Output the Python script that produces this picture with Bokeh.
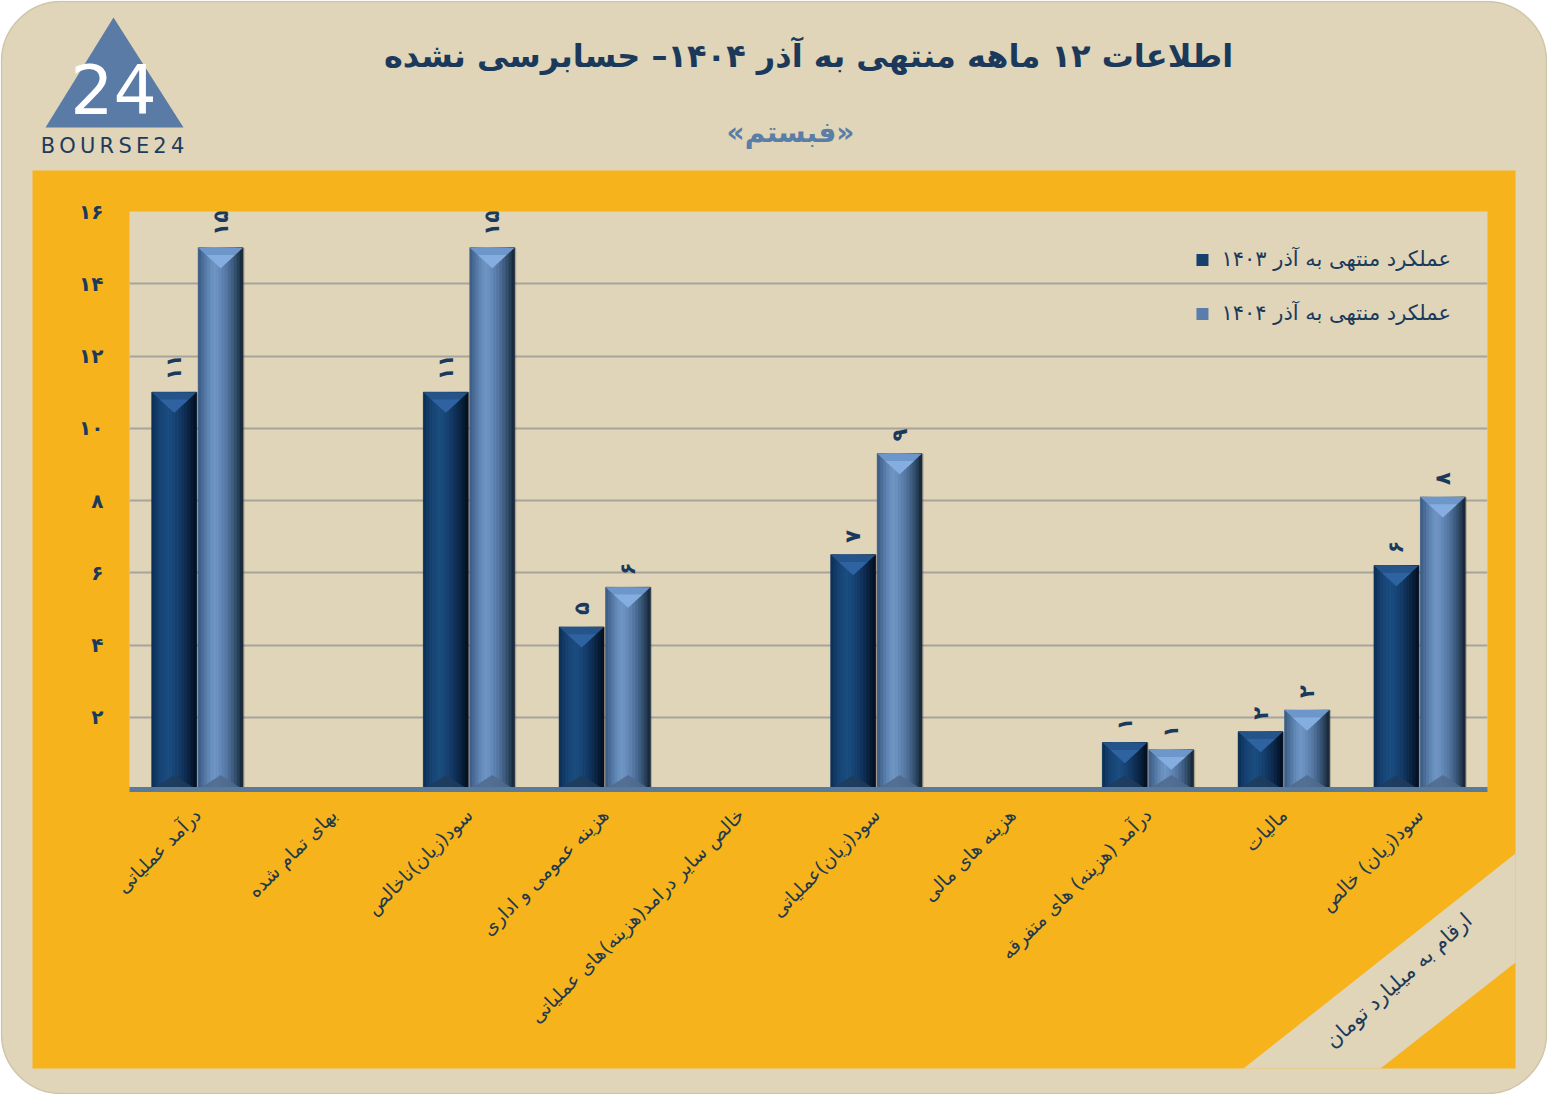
import math
from bokeh.plotting import figure
from bokeh.layouts import column
from bokeh.models import (BoxAnnotation, Label, Legend, LegendItem,
                          FixedTicker, ColumnDataSource, Range1d)
from bokeh.core.properties import value
from bokeh.embed import file_html
from bokeh.resources import INLINE

# ---------------- data ----------------
categories = ["درآمد عملیاتی", "بهای تمام شده", "سود(زیان)ناخالص", "هزینه عمومی و اداری",
              "خالص سایر درامد(هزینه)های عملیاتی", "سود(زیان)عملیاتی", "هزینه های مالی",
              "درآمد (هزینه) های متفرقه", "مالیات", "سود(زیان) خالص"]
values_1403 = [11.0, 0, 11.0, 4.5, 0, 6.5, 0, 1.3, 1.6, 6.2]
values_1404 = [15.0, 0, 15.0, 5.6, 0, 9.3, 0, 1.1, 2.2, 8.1]
labels_1403 = ["۱۱", "", "۱۱", "۵", "", "۷", "", "۱", "۲", "۶"]
labels_1404 = ["۱۵", "", "۱۵", "۶", "", "۹", "", "۱", "۲", "۸"]
series_names = ["عملکرد منتهی به آذر ۱۴۰۳", "عملکرد منتهی به آذر ۱۴۰۴"]
y_ticks = [0, 2, 4, 6, 8, 10, 12, 14, 16]
y_tick_labels = ["", "۲", "۴", "۶", "۸", "۱۰", "۱۲", "۱۴", "۱۶"]
title_text = "اطلاعات ۱۲ ماهه منتهی به آذر ۱۴۰۴– حسابرسی نشده"
subtitle_text = "«فبستم»"
unit_note = "ارقام به میلیارد تومان"

# ---------------- style ----------------
FONT = "DejaVu Sans"
BEIGE = "#e0d5b9"
ORANGE = "#f6b31b"
NAVY = "#1b3a5b"
W, H = 1547, 1094
FL, FR, FT, FB = 129, 1487, 211, 789

# ---------------- decoration layer (behind) ----------------
d = figure(width=W, height=H, x_range=Range1d(0, W), y_range=Range1d(H, 0),
           x_axis_location=None, y_axis_location=None, min_border=0,
           output_backend="svg", toolbar_location=None, outline_line_color=None,
           background_fill_color="white", border_fill_color="white", frame_align=False)
d.grid.visible = False
d.add_layout(BoxAnnotation(left=1, right=W - 1, top=1, bottom=H - 1, fill_color=BEIGE, fill_alpha=1,
                           line_color="#cfc5aa", line_alpha=1, line_width=1.5, border_radius=60,
                           level="image"))
d.quad(left=[32], right=[1515], top=[170], bottom=[1068], fill_color=ORANGE, line_color=None)
d.patch([1243, 1515, 1515, 1380], [1068, 853, 962, 1068], fill_color=BEIGE, line_color=None)
# logo
d.patch([113, 183, 45], [17, 127, 127], fill_color="#5a7ba6", line_color=None)
d.add_layout(Label(x=113, y=88, text="24", text_align="center", text_baseline="middle",
                   text_font=FONT, text_font_size="68px", text_color="white"))
d.add_layout(Label(x=112, y=145, text="\u2009".join("BOURSE24"), text_align="center",
                   text_baseline="middle", text_font=FONT, text_font_size="21px",
                   text_color="#1f3b5c"))
# titles
d.add_layout(Label(x=808, y=55, text=title_text, text_align="center", text_baseline="middle",
                   text_font=FONT, text_font_size="32px", text_font_style="bold", text_color=NAVY))
d.add_layout(Label(x=790, y=132, text=subtitle_text, text_align="center", text_baseline="middle",
                   text_font=FONT, text_font_size="28px", text_font_style="bold",
                   text_color="#5a7ea6"))
d.add_layout(Label(x=1398, y=980, text=unit_note, angle=math.radians(42), text_align="center",
                   text_baseline="middle", text_font=FONT, text_font_size="21px",
                   text_color=NAVY))

# ---------------- chart layer (front) ----------------
p = figure(width=W, height=H, x_range=Range1d(0, len(categories)), y_range=Range1d(0, 16),
           output_backend="svg", toolbar_location=None,
           min_border_left=FL, min_border_right=W - FR, min_border_top=FT, min_border_bottom=H - FB,
           background_fill_color=BEIGE, border_fill_color=None, border_fill_alpha=0,
           outline_line_color=None, frame_align=False, styles={"margin-top": f"-{H}px"})

p.yaxis.ticker = FixedTicker(ticks=y_ticks)
p.yaxis.major_label_overrides = {t: s for t, s in zip(y_ticks, y_tick_labels)}
p.yaxis.axis_line_color = None
p.yaxis.major_tick_line_color = None
p.yaxis.minor_tick_line_color = None
p.yaxis.major_label_standoff = 20
p.yaxis.major_label_text_font = FONT
p.yaxis.major_label_text_font_size = "20px"
p.yaxis.major_label_text_font_style = "bold"
p.yaxis.major_label_text_color = NAVY

x_centers = [i + 0.5 for i in range(len(categories))]
p.xaxis.ticker = FixedTicker(ticks=x_centers)
p.xaxis.major_label_overrides = {c: n for c, n in zip(x_centers, categories)}
p.xaxis.major_label_orientation = math.pi / 4
p.xaxis.axis_line_color = "#5a7a9c"
p.xaxis.axis_line_width = 5
p.xaxis.major_tick_line_color = None
p.xaxis.minor_tick_line_color = None
p.xaxis.major_label_standoff = 16
p.xaxis.major_label_text_font = FONT
p.xaxis.major_label_text_font_size = "19px"
p.xaxis.major_label_text_color = "#1d3a4f"

p.ygrid.ticker = FixedTicker(ticks=y_ticks)
p.ygrid.grid_line_color = "#a7a49c"
p.ygrid.grid_line_width = 2
p.xgrid.visible = False

# ---------------- bars ----------------
px_x = (FR - FL) / len(categories)
px_y = (FB - FT) / 16.0
bar_w = 0.33
offsets = [-0.171, 0.171]
half_w_y = (bar_w / 2) * px_x / px_y

profiles = [
    ["#0e3158", "#123a66", "#164170", "#184677", "#1a4a7c", "#1b4d80", "#1a4b7d", "#184677",
     "#16406f", "#143a66", "#11335b", "#0e2c4f", "#0b2443", "#081b34", "#051225"],
    ["#3f5f88", "#4a6c97", "#5679a6", "#6086b4", "#6a90bf", "#6f95c4", "#6b91c0", "#6489b8",
     "#5d80ad", "#5577a2", "#4b6b94", "#405d82", "#34506f", "#283f58", "#1b2b3d"],
]
base_colors = ["#15406d", "#5a7eab"]
top_colors = [("#24548a", "#2f62a0"), ("#6d96ca", "#86addf")]
bottom_colors = ["#1f3c5c", "#4f6a8c"]
label_lists = [labels_1403, labels_1404]
legend_items = []

for s, vals in enumerate([values_1403, values_1404]):
    off = offsets[s]
    xs_c = [x_centers[i] + off for i in range(len(vals)) if vals[i] > 0]
    tops = [v for v in vals if v > 0]
    labs = [label_lists[s][i] for i in range(len(vals)) if vals[i] > 0]

    # soft drop shadow to the right
    p.vbar(x=[x + 0.012 for x in xs_c], top=tops, bottom=0, width=bar_w, fill_color="black",
           fill_alpha=0.18, line_color=None)
    base = p.vbar(x=xs_c, top=tops, bottom=0, width=bar_w, fill_color=base_colors[s],
                  line_color=None)
    legend_items.append(LegendItem(label=series_names[s], renderers=[base]))

    n = len(profiles[s])
    sxs, stops, scols = [], [], []
    for xc, v in zip(xs_c, tops):
        for k in range(n):
            sxs.append(xc - bar_w / 2 + (k + 0.5) * bar_w / n)
            stops.append(v)
            scols.append(profiles[s][k])
    p.vbar(x="x", top="top", bottom=0, width=bar_w / n, fill_color="c", line_color="c",
           line_width=0.6, source=ColumnDataSource(dict(x=sxs, top=stops, c=scols)))

    t_xs, t_ys, ti_xs, ti_ys, b_xs, b_ys = [], [], [], [], [], []
    for xc, v in zip(xs_c, tops):
        xl, xr = xc - bar_w / 2, xc + bar_w / 2
        dt = min(0.92 * half_w_y, v / 2)
        db = min(0.65 * half_w_y, v / 2)
        t_xs.append([xl, xr, xc])
        t_ys.append([v, v, v - dt])
        ti_xs.append([xl + bar_w * 0.18, xr - bar_w * 0.18, xc])
        ti_ys.append([v - dt * 0.36, v - dt * 0.36, v - dt])
        b_xs.append([xl, xr, xc])
        b_ys.append([0, 0, db])
    p.patches(t_xs, t_ys, fill_color=top_colors[s][0], line_color=None)
    p.patches(ti_xs, ti_ys, fill_color=top_colors[s][1], line_color=None)
    p.patches(b_xs, b_ys, fill_color=bottom_colors[s], line_color=None, fill_alpha=0.85)

    p.text(x=xs_c, y=tops, text=labs, angle=math.pi / 2, text_align="left",
           text_baseline="middle", y_offset=-12, text_font=value(FONT),
           text_font_size="21px", text_font_style="bold", text_color=NAVY)

legend = Legend(items=legend_items, location="top_right", margin=36, padding=8,
                background_fill_alpha=0, border_line_color=None,
                label_text_font=FONT, label_text_font_size="21px", label_text_color=NAVY,
                glyph_width=15, glyph_height=15, label_standoff=12, label_height=22, spacing=30)
p.add_layout(legend)

layout = column(d, p)
open("out.html", "w").write(file_html(layout, INLINE))
